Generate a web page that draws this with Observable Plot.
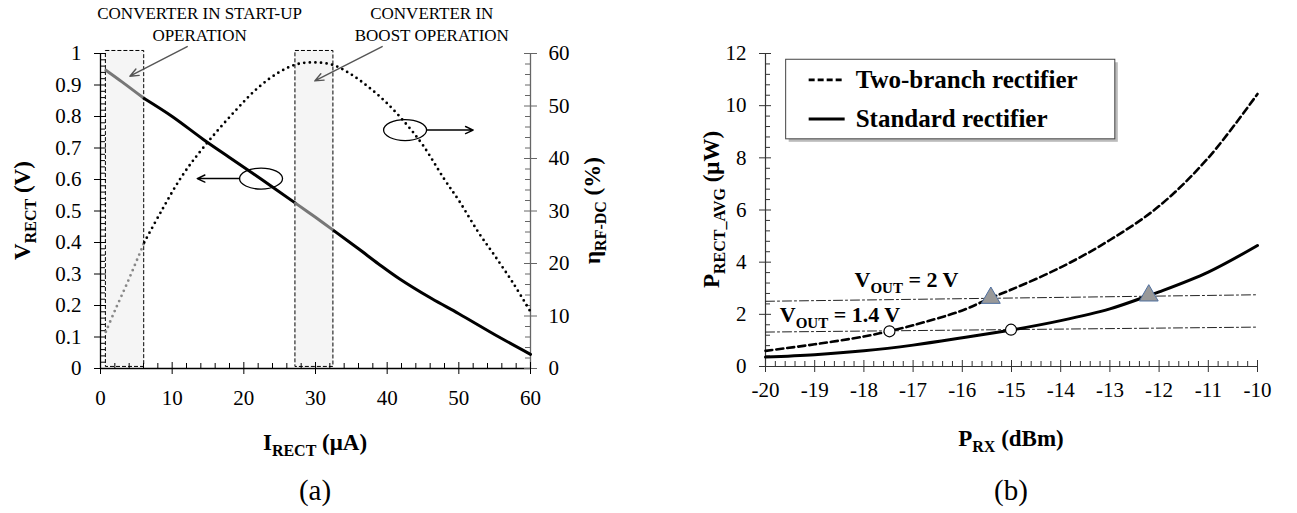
<!DOCTYPE html>
<html><head><meta charset="utf-8">
<script src="https://cdn.jsdelivr.net/npm/d3@7"></script>
<script src="https://cdn.jsdelivr.net/npm/@observablehq/plot@0.6"></script>
<style>
body{margin:0;background:#fff;}
#wrap{position:relative;width:1297px;height:513px;overflow:hidden;font-family:"Liberation Serif","Times New Roman",serif;}
#wrap svg{position:absolute;top:0;}
</style></head><body><div id="wrap"></div>
<script>
// ---------- Panel (a) data ----------
const iRect = [0.75, 3, 6.1, 10, 14.3, 18, 22.5, 27.2, 30, 32.6, 36, 38.8, 41.7, 46.2, 50, 55.6, 60];
const vRect = [0.947, 0.91, 0.857, 0.80, 0.728, 0.67, 0.60, 0.525, 0.48, 0.437, 0.38, 0.332, 0.285, 0.222, 0.174, 0.10, 0.045];
const iEff = [0.75, 2, 3.8, 6.1, 8.5, 11.3, 14.3, 18.75, 22, 25, 27.5, 30, 32.5, 35, 37.5, 40, 42.7, 45, 48, 50, 52.7, 55, 57.7, 60];
const effPct = [7.0, 11, 16.5, 24, 30, 36.5, 42, 49, 53.5, 56.5, 58, 58.3, 57.8, 56, 53.5, 50.5, 46.5, 42.5, 36, 32, 26, 21.5, 16, 10.8];
const zoneLine1 = ["CONVERTER IN START-UP", "CONVERTER IN"];
const zoneLine2 = ["OPERATION", "BOOST OPERATION"];
const zoneStart = [0.75, 27.2];
const zoneEnd = [6.1, 32.5];
const labelX = [13.9, 46.3];
const labelY1 = [1.107, 1.107];
const labelY2 = [1.037, 1.037];
const arrowFrom = [[12.1, 1.022], [39.3, 1.022]];
const arrowTo = [[4.1, 0.928], [29.9, 0.913]];
const ovalCenter = [[22.4, 0.603], [42.5, 0.757]];
const ovalArrowStart = [[19.4, 0.603], [45.6, 0.757]];
const ovalArrowEnd = [[13.5, 0.603], [52.0, 0.757]];
const xTicksA = [0, 10, 20, 30, 40, 50, 60];
const yTicksA = [0, 0.1, 0.2, 0.3, 0.4, 0.5, 0.6, 0.7, 0.8, 0.9, 1];
const effTicks = [0, 10, 20, 30, 40, 50, 60];

// ---------- Panel (b) data ----------
const prxTwo = [-20, -19, -18, -17.5, -17, -16, -15.42, -15, -14, -13, -12, -11, -10];
const twoBranch = [0.6, 0.85, 1.15, 1.35, 1.58, 2.15, 2.63, 2.95, 3.8, 4.85, 6.15, 8.0, 10.45];
const prxStd = [-20, -19, -18, -17, -16, -15, -14, -13, -12.21, -12, -11, -10];
const standard = [0.36, 0.45, 0.6, 0.82, 1.1, 1.4, 1.76, 2.21, 2.72, 2.86, 3.62, 4.64];
const seriesNames = ["Two-branch rectifier", "Standard rectifier"];
const circX = [-17.48, -15.01];
const circY = [1.35, 1.41];
const triX = [-15.42, -12.21];
const triY = [2.63, 2.72];
const refX = [-20, -10];
const ref2V = [2.5, 2.75];
const ref14V = [1.32, 1.51];
const xTicksB = [-20, -19, -18, -17, -16, -15, -14, -13, -12, -11, -10];
const yTicksB = [0, 2, 4, 6, 8, 10, 12];
const legendX = [-19.58, -12.89];
const legendY = [11.76, 8.71];
const legendRowY = [10.97, 9.47];

const FONT = "Liberation Serif";
const wrap = document.getElementById("wrap");

function segments(xs, ys, grayZones) {
  const rows = [];
  let seg = 0, prev = null;
  for (let i = 1; i < xs.length; i++) {
    const mid = (xs[i - 1] + xs[i]) / 2;
    const g = grayZones.some(([a, b]) => mid >= a && mid <= b);
    if (prev === null || g !== prev) { seg++; rows.push({x: xs[i - 1], y: ys[i - 1], seg, gray: g}); }
    rows.push({x: xs[i], y: ys[i], seg, gray: g});
    prev = g;
  }
  return rows;
}

const ellipseSymbol = {
  draw(ctx) {
    const rx = 21.5, ry = 10.5, k = 0.5523;
    ctx.moveTo(rx, 0);
    ctx.bezierCurveTo(rx, ry * k, rx * k, ry, 0, ry);
    ctx.bezierCurveTo(-rx * k, ry, -rx, ry * k, -rx, 0);
    ctx.bezierCurveTo(-rx, -ry * k, -rx * k, -ry, 0, -ry);
    ctx.bezierCurveTo(rx * k, -ry, rx, -ry * k, rx, 0);
    ctx.closePath();
  }
};

function addRichText(svg, x, y, parts, {size = 23, weight = "bold", rotate = 0, anchor = "middle", subSize = 16, subShift = 6} = {}) {
  const t = d3.select(svg).append("text")
    .attr("transform", `translate(${x},${y}) rotate(${rotate})`)
    .attr("text-anchor", anchor)
    .attr("font-family", FONT).attr("font-size", size).attr("font-weight", weight).attr("fill", "#000");
  let shifted = false;
  for (const p of parts) {
    const ts = t.append("tspan").text(p.t);
    if (p.sub && !shifted) { ts.attr("dy", subShift).attr("font-size", subSize); shifted = true; }
    else if (p.sub) { ts.attr("font-size", subSize); }
    else if (!p.sub && shifted) { ts.attr("dy", -subShift); shifted = false; }
  }
  return t;
}
function addText(svg, x, y, str, {size = 16, weight = "normal", anchor = "middle"} = {}) {
  return d3.select(svg).append("text").attr("x", x).attr("y", y).attr("text-anchor", anchor)
    .attr("font-family", FONT).attr("font-size", size).attr("font-weight", weight).attr("fill", "#000").text(str);
}

// ================= Panel (a) =================
{
  const W = 648, H = 513, mL = 100, mR = 648 - 530, mT = 53, mB = 513 - 368;
  const fw = W - mL - mR, fh = H - mT - mB;
  const zones = zoneStart.map((a, i) => ({x1: a, x2: zoneEnd[i], y1: 0.005, y2: 1.008}));
  const vRows = segments(iRect, vRect, zoneStart.map((a, i) => [a, zoneEnd[i]]));
  const eRows = segments(iEff, effPct.map(v => v / 60), [[zoneStart[0], zoneEnd[0]]]);
  const minorX = d3.range(0, 60.001, 2).filter(v => v % 10 !== 0);
  const minorY = d3.range(0, 51).map(i => i / 50).filter((v, i) => i % 5 !== 0);
  const minorE = d3.range(0, 60.001, 2).filter(v => v % 10 !== 0).map(v => v / 60);
  const arrows = arrowFrom.map((f, i) => ({x1: f[0], y1: f[1], x2: arrowTo[i][0], y2: arrowTo[i][1]}));
  const ovals = ovalCenter.map(c => ({x: c[0], y: c[1]}));
  const ovalArrows = ovalArrowStart.map((s, i) => ({x1: s[0], y1: s[1], x2: ovalArrowEnd[i][0], y2: ovalArrowEnd[i][1]}));

  const plotA = Plot.plot({
    width: W, height: H, marginLeft: mL, marginRight: mR, marginTop: mT, marginBottom: mB,
    style: {fontFamily: FONT, fontSize: "21px", background: "transparent", overflow: "visible"},
    x: {domain: [0, 60]},
    y: {domain: [0, 1]},
    marks: [
      Plot.rect(zones, {x1: "x1", x2: "x2", y1: "y1", y2: "y2", fill: "#f5f5f5", stroke: "#000", strokeWidth: 1, strokeDasharray: "4,2"}),
      Plot.ruleX([0], {stroke: "#000", strokeWidth: 1.3}),
      Plot.ruleX([60], {stroke: "#666", strokeWidth: 1.3}),
      Plot.ruleY([0], {stroke: "#000", strokeWidth: 1.3}),
      Plot.tickX(minorX, {x: d => d, insetTop: fh - 5, stroke: "#000"}),
      Plot.tickX(xTicksA, {x: d => d, insetTop: fh - 6, stroke: "#000"}),
      Plot.tickY(minorY, {y: d => d, insetRight: fw - 5, stroke: "#000"}),
      Plot.tickY(yTicksA, {y: d => d, insetRight: fw - 6, stroke: "#000"}),
      Plot.tickY(minorE, {y: d => d, insetLeft: fw - 5, stroke: "#666"}),
      Plot.tickY(effTicks.map(v => v / 60), {y: d => d, insetLeft: fw - 6, stroke: "#666"}),
      Plot.axisX({ticks: xTicksA, tickSize: 6, tickPadding: 16, fontSize: 21, label: null, tickFormat: d => String(d)}),
      Plot.axisY({ticks: yTicksA, tickSize: 6, tickPadding: 13, fontSize: 21, label: null, tickFormat: d => d3.format("~g")(d)}),
      Plot.axisY({anchor: "right", ticks: effTicks.map(v => v / 60), tickSize: 6, tickPadding: 12, fontSize: 21, label: null, stroke: "#666", tickFormat: d => String(Math.round(d * 60))}),
      Plot.line(eRows, {x: "x", y: "y", z: "seg", stroke: d => d.gray ? "#888" : "#000", strokeWidth: 2.8, strokeDasharray: "0,5.6", strokeLinecap: "round", curve: "catmull-rom"}),
      Plot.line(vRows, {x: "x", y: "y", z: "seg", stroke: d => d.gray ? "#777" : "#000", strokeWidth: 3, curve: "catmull-rom"}),
      Plot.dot(ovals, {x: "x", y: "y", symbol: ellipseSymbol, r: 5, stroke: "#000", fill: "none", strokeWidth: 1.3}),
      Plot.arrow(ovalArrows, {x1: "x1", y1: "y1", x2: "x2", y2: "y2", stroke: "#000", strokeWidth: 1.4, headLength: 9, headAngle: 50}),
      Plot.arrow(arrows, {x1: "x1", y1: "y1", x2: "x2", y2: "y2", stroke: "#555", strokeWidth: 1.4, headLength: 10, headAngle: 45})
    ]
  });
  plotA.style.left = "0px";
  wrap.appendChild(plotA);
  const sx = plotA.scale("x"), sy = plotA.scale("y");
  zoneLine1.forEach((t, i) => addText(plotA, sx.apply(labelX[i]), sy.apply(labelY1[i]), t, {size: 17}));
  zoneLine2.forEach((t, i) => addText(plotA, sx.apply(labelX[i]), sy.apply(labelY2[i]), t, {size: 17}));
  const cy = (sy.apply(0) + sy.apply(1)) / 2;
  addRichText(plotA, sx.apply(0) - 70, cy, [{t: "V"}, {t: "RECT", sub: true}, {t: " (V)"}], {rotate: -90});
  addRichText(plotA, sx.apply(60) + 70, cy, [{t: "η"}, {t: "RF-DC", sub: true}, {t: " (%)"}], {rotate: -90});
  addRichText(plotA, sx.apply(30), 450, [{t: "I"}, {t: "RECT", sub: true}, {t: " (μA)"}]);
  addText(plotA, sx.apply(30), 500, "(a)", {size: 29});
}

// ================= Panel (b) =================
{
  const left = 648;
  const W = 649, H = 513, mL = 765 - left, mR = W - (1257 - left), mT = 53, mB = 513 - 366;
  const fw = W - mL - mR, fh = H - mT - mB;
  const twoRows = prxTwo.map((x, i) => ({x, y: twoBranch[i]}));
  const stdRows = prxStd.map((x, i) => ({x, y: standard[i]}));
  const circles = circX.map((x, i) => ({x, y: circY[i]}));
  const tris = triX.map((x, i) => ({x, y: triY[i]}));
  const refRows = [...refX.map((x, i) => ({x, y: ref2V[i], k: "2V"})), ...refX.map((x, i) => ({x, y: ref14V[i], k: "1.4V"}))];
  const minorX = d3.range(0, 51).map(i => -20 + i * 0.2).filter((v, i) => i % 5 !== 0);
  const minorY = d3.range(0, 31).map(i => i * 0.4).filter((v, i) => i % 5 !== 0);

  const plotB = Plot.plot({
    width: W, height: H, marginLeft: mL, marginRight: mR, marginTop: mT, marginBottom: mB,
    style: {fontFamily: FONT, fontSize: "21px", background: "transparent", overflow: "visible"},
    x: {domain: [-20, -10]},
    y: {domain: [0, 12]},
    marks: [
      Plot.ruleX([-20], {stroke: "#333", strokeWidth: 1.2}),
      Plot.ruleY([0], {stroke: "#333", strokeWidth: 1.2}),
      Plot.tickX(minorX, {x: d => d, insetTop: fh - 5, stroke: "#333"}),
      Plot.tickX(xTicksB, {x: d => d, insetTop: fh - 6, stroke: "#333"}),
      Plot.tickY(minorY, {y: d => d, insetRight: fw - 5, stroke: "#333"}),
      Plot.tickY(yTicksB, {y: d => d, insetRight: fw - 6, stroke: "#333"}),
      Plot.axisX({ticks: xTicksB, tickSize: 6, tickPadding: 10, fontSize: 21, label: null, stroke: "#333", tickFormat: d => String(d)}),
      Plot.axisY({ticks: yTicksB, tickSize: 6, tickPadding: 13, fontSize: 21, label: null, stroke: "#333", tickFormat: d => String(d)}),
      Plot.line(refRows, {x: "x", y: "y", z: "k", stroke: "#222", strokeWidth: 1, strokeDasharray: "9,3,2,3"}),
      Plot.line(twoRows, {x: "x", y: "y", stroke: "#000", strokeWidth: 2.6, strokeDasharray: "7,4", curve: "catmull-rom"}),
      Plot.line(stdRows, {x: "x", y: "y", stroke: "#000", strokeWidth: 3, curve: "catmull-rom"}),
      Plot.dot(circles, {x: "x", y: "y", r: 5.5, fill: "#fff", stroke: "#000", strokeWidth: 1.2}),
      Plot.dot(tris, {x: "x", y: "y", r: 7, symbol: "triangle", fill: "#999", stroke: "#4f6f9f", strokeWidth: 1})
    ]
  });
  plotB.style.left = left + "px";
  wrap.appendChild(plotB);
  const sx = plotB.scale("x"), sy = plotB.scale("y");
  const cy = (sy.apply(0) + sy.apply(12)) / 2;
  addRichText(plotB, sx.apply(-20) - 46, cy, [{t: "P"}, {t: "RECT_AVG", sub: true}, {t: " (μW)"}], {rotate: -90});
  addRichText(plotB, sx.apply(-15), 446, [{t: "P"}, {t: "RX", sub: true}, {t: " (dBm)"}]);
  addRichText(plotB, sx.apply(-18.18), sy.apply(3.02), [{t: "V"}, {t: "OUT", sub: true}, {t: " = 2 V"}], {anchor: "start", size: 22, subSize: 15});
  addRichText(plotB, sx.apply(-19.7), sy.apply(1.68), [{t: "V"}, {t: "OUT", sub: true}, {t: " = 1.4 V"}], {anchor: "start", size: 22, subSize: 15});
  addText(plotB, sx.apply(-15), 500, "(b)", {size: 29});

  // legend
  const g = d3.select(plotB).append("g");
  const bx = sx.apply(legendX[0]), bx2 = sx.apply(legendX[1]);
  const by = sy.apply(legendY[0]), by2 = sy.apply(legendY[1]);
  g.append("rect").attr("x", bx + 3).attr("y", by + 3).attr("width", bx2 - bx).attr("height", by2 - by).attr("fill", "#bbb");
  g.append("rect").attr("x", bx).attr("y", by).attr("width", bx2 - bx).attr("height", by2 - by).attr("fill", "#fff").attr("stroke", "#444").attr("stroke-width", 1);
  const dashes = ["6,3", null];
  seriesNames.forEach((name, i) => {
    const yy = sy.apply(legendRowY[i]);
    const ln = g.append("line").attr("x1", bx + 23).attr("x2", bx + 59).attr("y1", yy).attr("y2", yy)
      .attr("stroke", "#000").attr("stroke-width", i === 0 ? 2.6 : 3);
    if (dashes[i]) ln.attr("stroke-dasharray", dashes[i]);
    g.append("text").attr("x", bx + 70).attr("y", yy + 8).attr("text-anchor", "start").attr("font-family", FONT)
      .attr("font-size", 25).attr("font-weight", "bold").attr("fill", "#000").text(name);
  });
}
</script></body></html>
